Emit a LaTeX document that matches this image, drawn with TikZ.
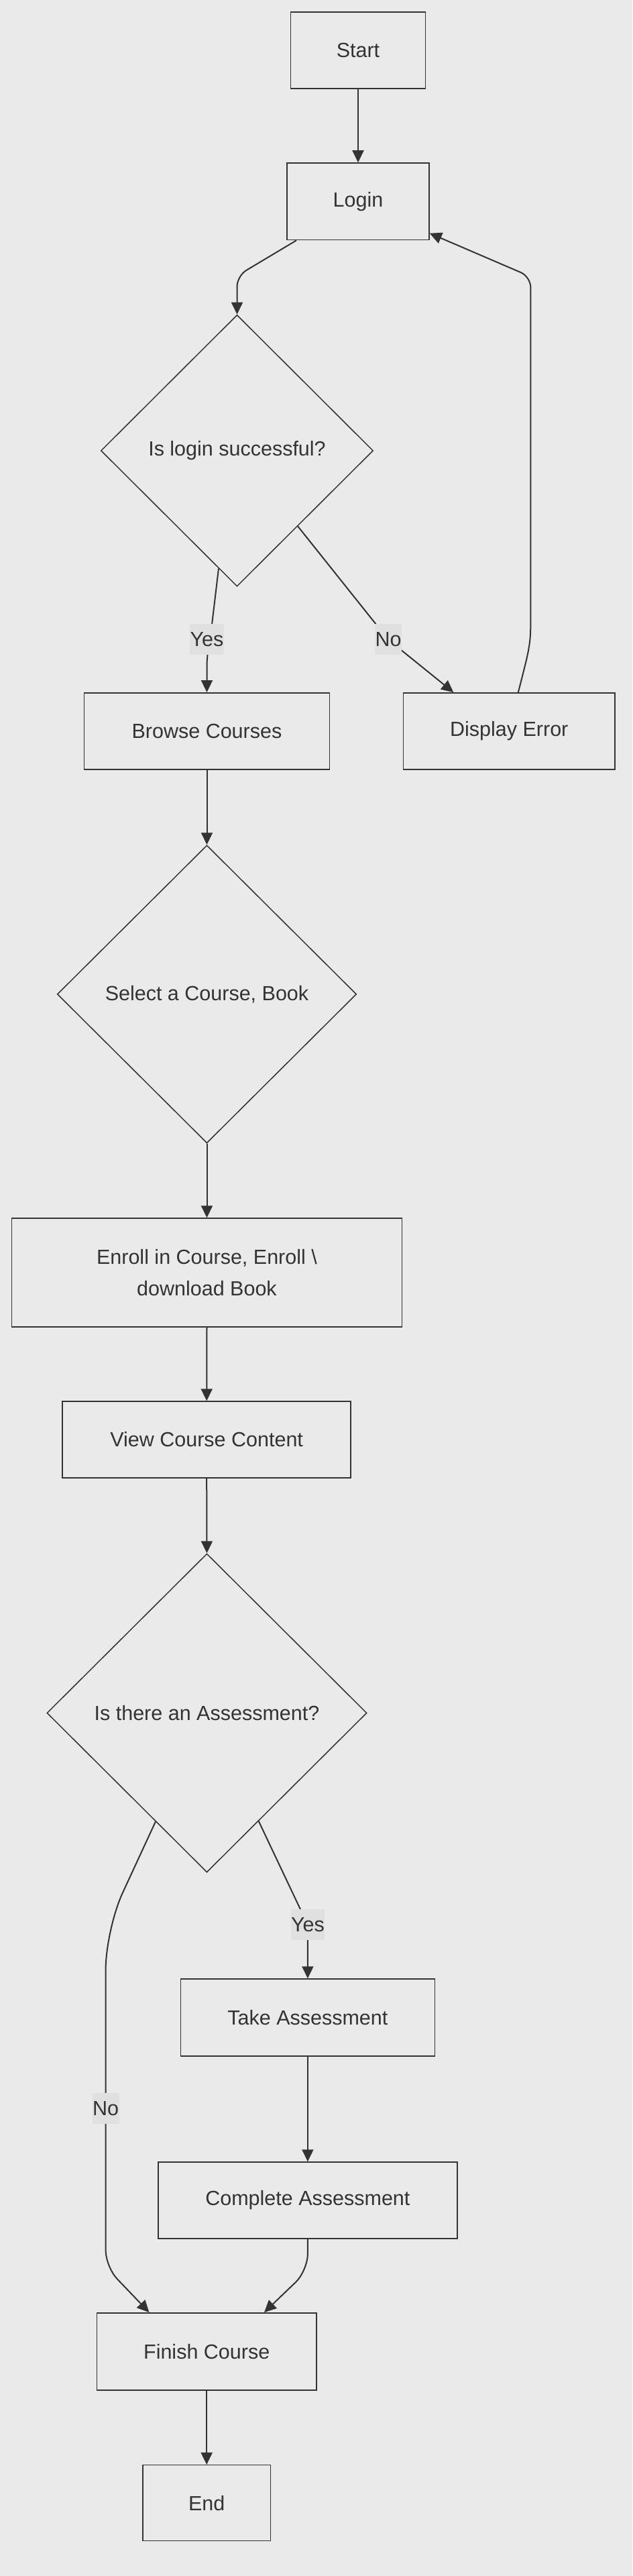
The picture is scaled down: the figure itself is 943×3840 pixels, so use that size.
\documentclass[tikz,border=0pt]{standalone}
\usepackage{fontspec}
\setmainfont{Liberation Sans}
\usetikzlibrary{shapes.geometric,arrows.meta,calc}
\definecolor{bg}{HTML}{EAEAEA}
\definecolor{ink}{HTML}{333333}
\definecolor{lbl}{HTML}{E0E0E0}
\begin{document}
\begin{tikzpicture}[x=1pt,y=-1pt,
  font=\fontsize{30.5}{47}\selectfont, text=ink,
  box/.style={draw=ink, line width=1.5pt, fill=bg, rectangle, inner sep=0pt, align=center},
  dia/.style={draw=ink, line width=1.5pt, fill=bg, diamond, inner sep=0pt, aspect=1},
  lab/.style={fill=lbl, inner sep=0pt, minimum height=46pt, text=ink},
  link/.style={draw=ink, line width=2pt, -{Triangle[length=18pt,width=17pt]}, rounded corners=16pt}
]
\fill[bg] (0,0) rectangle (943,3840);
\useasboundingbox (0,0) rectangle (943,3840);

\node[box, minimum width=201pt, minimum height=114pt] (start) at (534,75) {Start};
\node[box, minimum width=212pt, minimum height=114.6pt] (login) at (534,300.3) {Login};
\node[dia, minimum width=406pt, minimum height=404.7pt] (d1) at (353.5,671.8) {Is login successful?};
\node[box, minimum width=365.6pt, minimum height=114.4pt] (browse) at (308.5,1090) {Browse Courses};
\node[box, minimum width=315.7pt, minimum height=114.4pt] (de) at (759.3,1090) {Display Error};
\node[dia, minimum width=446.2pt, minimum height=444pt] (d2) at (308.5,1482) {Select a Course, Book};
\node[box, minimum width=582.2pt, minimum height=162pt] (enroll) at (308.5,1897) {Enroll in Course, Enroll \textbackslash\\download Book};
\node[box, minimum width=430pt, minimum height=114pt] (vcc) at (308.2,2146) {View Course Content};
\node[dia, minimum width=477pt, minimum height=475pt] (d3) at (308.5,2553.5) {Is there an Assessment?};
\node[box, minimum width=379pt, minimum height=115pt] (take) at (458.9,3007.5) {Take Assessment};
\node[box, minimum width=446.3pt, minimum height=114pt] (complete) at (458.9,3280) {Complete Assessment};
\node[box, minimum width=327.8pt, minimum height=115pt] (finish) at (308.2,3505.3) {Finish Course};
\node[box, minimum width=190.6pt, minimum height=113pt] (end) at (308.2,3731.2) {End};

% connectors
\draw[link] (start.south) -- (login.north);
\draw[link] ($(login.south)+(-92,0)$) -- ($(d1.north)+(0,-57.5)$) -- (d1.north);
\draw[link] ($(d1.south)!0.135!(d1.west)$) -- ($(browse.north)+(5,-80)$) -- ($(browse.north)+(0,-55)$) -- (browse.north);
\node[lab, minimum width=51pt] (yes1) at ($(browse.north)+(0,-78.6)$) {Yes};
\draw[link] ($(d1.south)!0.445!(d1.east)$) -- ($(de.north)+(-180.3,-78.6)$) -- ($(de.north)+(-83,0)$);
\node[lab, minimum width=40pt] (no1) at ($(de.north)+(-180.3,-78.6)$) {No};
\draw[link] ($(de.north)+(13.5,0)$) .. controls ($(de.north)+(32.1,-72)$) .. ($(de.north)+(32.1,-132.6)$)
   -- ($(de.north)+(32.1,-619.6)$) -- ($(login.south east)+(0,-10.6)$);
\draw[link] (browse.south) -- (d2.north);
\draw[link] (d2.south) -- (enroll.north);
\draw[link] (enroll.south) -- (vcc.north);
\draw[link] (vcc.south) -- (d3.north);
\draw[link] ($(d3.south)!0.323!(d3.east)$) -- ($(take.north)+(0,-80)$) -- (take.north);
\node[lab, minimum width=50pt] (yes2) at ($(take.north)+(0,-80)$) {Yes};
\draw[link, rounded corners=60pt] ($(d3.south)!0.32!(d3.west)$) -- ($(finish.north)+(-150.6,-570.8)$)
   [rounded corners=25pt] -- ($(finish.north)+(-150.6,-67.8)$) -- ($(finish.north)+(-85.7,0)$);
\node[lab, minimum width=40pt] (no2) at ($(finish.north)+(-150.6,-304.3)$) {No};
\draw[link] (take.south) -- (complete.north);
\draw[link, rounded corners=25pt] (complete.south) -- ($(complete.south)+(0,47)$) -- ($(finish.north)+(85.8,0)$);
\draw[link] (finish.south) -- (end.north);
\end{tikzpicture}
\end{document}
